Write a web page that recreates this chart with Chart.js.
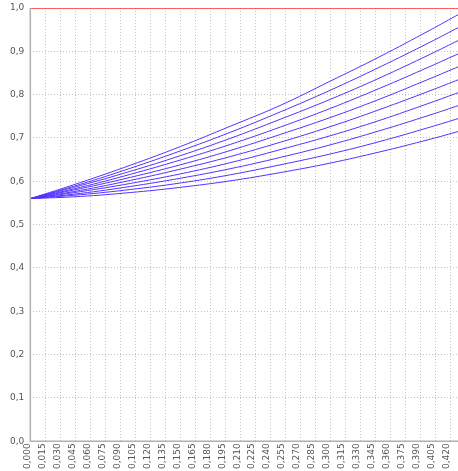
<!DOCTYPE html>
<html>
<head>
<meta charset="utf-8">
<script src="https://cdn.jsdelivr.net/npm/chart.js@4.4.0/dist/chart.umd.min.js"></script>
<style>
  html, body { margin: 0; padding: 0; background: #fff; }
  #wrap { width: 458px; height: 471px; }
</style>
</head>
<body>
<div id="wrap"><canvas id="grafico"></canvas></div>
<script>
// valores
const xs = [0, 0.05, 0.10, 0.15, 0.20, 0.25, 0.30, 0.35, 0.40, 0.43];
const curvas = [
  [0.56, 0.565, 0.574, 0.586, 0.601, 0.620, 0.642, 0.668, 0.697, 0.716],
  [0.56, 0.569, 0.581, 0.596, 0.615, 0.638, 0.663, 0.692, 0.725, 0.746],
  [0.56, 0.572, 0.588, 0.607, 0.629, 0.655, 0.684, 0.717, 0.753, 0.776],
  [0.56, 0.576, 0.595, 0.617, 0.643, 0.673, 0.705, 0.741, 0.781, 0.806],
  [0.56, 0.579, 0.602, 0.628, 0.657, 0.690, 0.726, 0.766, 0.809, 0.836],
  [0.56, 0.583, 0.609, 0.638, 0.671, 0.708, 0.747, 0.790, 0.837, 0.866],
  [0.56, 0.586, 0.616, 0.649, 0.685, 0.725, 0.768, 0.815, 0.865, 0.896],
  [0.56, 0.590, 0.623, 0.659, 0.699, 0.743, 0.789, 0.839, 0.893, 0.927],
  [0.56, 0.593, 0.630, 0.670, 0.713, 0.760, 0.810, 0.864, 0.921, 0.957],
  [0.56, 0.597, 0.637, 0.680, 0.727, 0.775, 0.831, 0.888, 0.949, 0.987]
];
const limiteX = [0, 0.43];
const limiteY = [1.0, 1.0];

const coma = (v, d) => v.toFixed(d).replace('.', ',');

const datasets = curvas.map(c => ({
  data: xs.map((x, i) => ({ x: x, y: c[i] })),
  borderColor: 'rgb(85, 50, 255)',
  borderWidth: 1,
  pointRadius: 0,
  tension: 0.4,
  fill: false
}));
datasets.push({
  data: limiteX.map((x, i) => ({ x: x, y: limiteY[i] })),
  borderColor: '#ff3030',
  borderWidth: 1.5,
  pointRadius: 0,
  fill: false
});

const fuente = { family: 'DejaVu Sans', size: 9 };

// ejes sólidos dibujados aparte, la rejilla queda punteada
const ejes = {
  id: 'ejes',
  afterDatasetsDraw: chart => {
    const { ctx, chartArea: a } = chart;
    ctx.save();
    ctx.strokeStyle = '#b0b0b0';
    ctx.lineWidth = 1.5;
    ctx.setLineDash([]);
    ctx.beginPath();
    ctx.moveTo(a.left, a.top);
    ctx.lineTo(a.left, a.bottom);
    ctx.lineTo(a.right, a.bottom);
    ctx.stroke();
    ctx.restore();
  }
};

new Chart(document.getElementById('grafico'), {
  type: 'line',
  data: { datasets: datasets },
  options: {
    responsive: true,
    maintainAspectRatio: false,
    animation: false,
    layout: { padding: { top: 8, right: 0, left: 4, bottom: 0 } },
    plugins: { legend: { display: false }, tooltip: { enabled: false } },
    scales: {
      x: {
        type: 'linear',
        min: 0,
        max: 0.428,
        afterFit: s => { s.paddingRight = 0; },
        ticks: {
          stepSize: 0.015,
          includeBounds: false,
          autoSkip: false,
          minRotation: 90,
          maxRotation: 90,
          labelOffset: -3,
          padding: 2,
          color: '#555',
          font: fuente,
          callback: v => coma(v, 3)
        },
        grid: { color: '#c4c4c4', lineWidth: 1, drawTicks: false },
        border: { display: false, dash: [1, 2] }
      },
      y: {
        min: 0,
        max: 1,
        afterFit: s => { s.paddingTop = 0; },
        ticks: {
          stepSize: 0.1,
          padding: 6,
          color: '#555',
          font: fuente,
          callback: v => coma(v, 1)
        },
        grid: { color: '#c4c4c4', lineWidth: 1, drawTicks: false },
        border: { display: false, dash: [1, 2] }
      }
    }
  },
  plugins: [ejes]
});
</script>
</body>
</html>
